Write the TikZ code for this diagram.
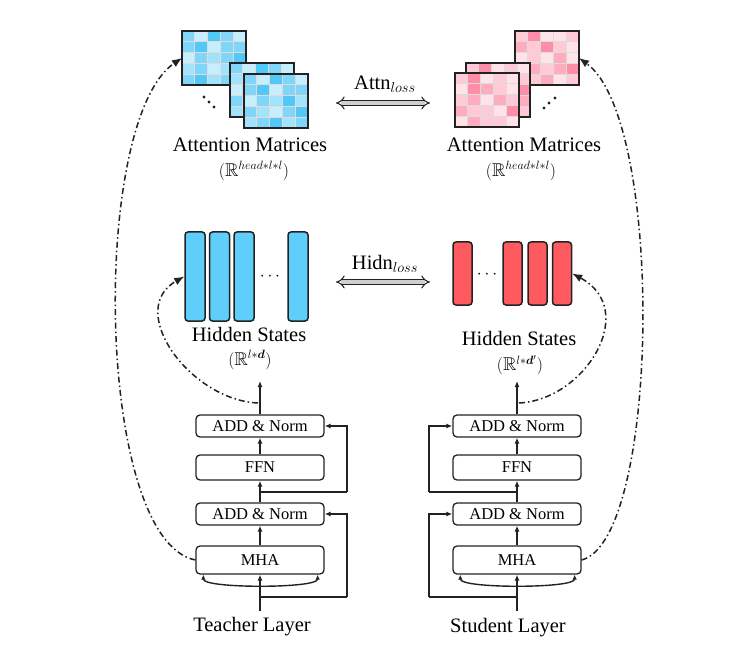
\documentclass[tikz,border=0pt]{standalone}
\usepackage{amssymb,bm}
\usepackage{fontspec}
\setmainfont{Liberation Serif}
\usetikzlibrary{arrows.meta,calc}
\definecolor{ink}{HTML}{222222}
\definecolor{b1}{HTML}{C6EEFD}
\definecolor{b2}{HTML}{A2E2FB}
\definecolor{b3}{HTML}{80D6F8}
\definecolor{b4}{HTML}{52C8F7}
\definecolor{p1}{HTML}{FFE3E9}
\definecolor{p2}{HTML}{FFCAD6}
\definecolor{p3}{HTML}{FFACBF}
\definecolor{p4}{HTML}{FF8DA7}
\definecolor{hblue}{HTML}{60CEFA}
\definecolor{hred}{HTML}{FF5A60}
\definecolor{gridc}{HTML}{DCDCDC}
\definecolor{arrfill}{HTML}{CFCFCF}
\tikzset{
  conn/.style={draw=ink, line width=1.4pt},
  arr/.style={-{Latex[length=6pt,width=5pt]}},
  ddarr/.style={draw=ink, line width=1.5pt, dash pattern=on 6pt off 3pt on 1.5pt off 3pt, -{Latex[length=10pt,width=8pt]}},
  blk/.style={draw=ink, line width=1.3pt, rounded corners=4pt, fill=white, minimum width=128pt, inner sep=0pt, font=\fontsize{16.5}{18}\selectfont},
  matbox/.style={minimum width=64pt, minimum height=54pt, inner sep=0pt, outer sep=0pt, fill=white},
  hbarT/.style={draw=ink, line width=1.5pt, rounded corners=3pt, minimum width=20pt, minimum height=89pt, inner sep=0pt, fill=hblue},
  hbarS/.style={draw=ink, line width=1.5pt, rounded corners=3pt, minimum width=19pt, minimum height=63pt, inner sep=0pt, fill=hred},
  biglbl/.style={font=\fontsize{20.5}{24}\selectfont, inner sep=0pt},
  mathlbl/.style={font=\fontsize{18.5}{21}\selectfont, inner sep=0pt},
  lossarr/.style={draw=ink, line width=1pt, double=arrfill, double distance=3.5pt, {Implies[length=4pt]}-{Implies[length=4pt]}},
}
\newcommand{\attnmat}[5]{%
  \node[matbox] (#1) at (#2+32,#3+27) {};
  \foreach \v [count=\i from 0] in {#5} {
    \pgfmathtruncatemacro\rr{int(\i/5)}
    \pgfmathtruncatemacro\cc{mod(\i,5)}
    \fill[#4\v, draw=gridc, line width=0.8pt] (#2+\cc*12.8, #3+\rr*10.8) rectangle ++(12.8,10.8);
  }
  \draw[ink, line width=2.2pt] (#1.north west) rectangle (#1.south east);
}
\begin{document}
\begin{tikzpicture}[x=1pt,y=-1pt]
\useasboundingbox (0,0) rectangle (756,666);

% ---- attention matrices (teacher)
\attnmat{tm1}{182}{31}{b}{3,1,4,3,1, 3,4,1,3,3, 1,3,2,3,4, 2,3,1,2,3, 3,4,2,3,2}
\attnmat{tm2}{230}{63}{b}{3,1,4,3,1, 2,3,2,4,3, 1,3,3,2,3, 3,1,2,3,4, 2,3,4,1,3}
\attnmat{tm3}{244}{74}{b}{3,1,4,3,1, 3,4,1,3,3, 1,3,2,4,2, 3,2,1,3,4, 2,3,4,2,3}
\foreach \p [count=\k] in {(204,97),(209,102),(214,107)}
  \fill[ink] \p circle (1.6);

% ---- attention matrices (student)
\attnmat{sm1}{515}{31}{p}{2,4,1,1,2, 3,2,4,2,1, 1,2,1,3,1, 2,3,2,3,4, 1,2,3,1,2}
\attnmat{sm2}{466}{63}{p}{2,4,1,2,1, 3,2,3,1,2, 2,3,1,2,4, 1,2,3,2,3, 2,1,2,3,2}
\attnmat{sm3}{455}{73}{p}{2,4,1,2,1, 1,4,3,2,1, 2,3,1,3,2, 3,2,2,1,4, 1,3,2,2,1}
\foreach \p [count=\k] in {(544,108),(549,103),(555,98)}
  \fill[ink] \p circle (1.6);

% ---- labels for matrices
\node[biglbl] (tattn) at (250,145) {Attention Matrices};
\node[mathlbl] (tattnR) at (254,171) {$(\mathbb{R}^{head*l*l})$};
\node[biglbl] (sattn) at (524,145) {Attention Matrices};
\node[mathlbl] (sattnR) at (521,171) {$(\mathbb{R}^{head*l*l})$};

% ---- loss arrows
\node[biglbl] (attnloss) at (385,84) {Attn$_{loss}$};
\coordinate (al) at (336,103);
\coordinate (ar) at (430,103);
\draw[lossarr] (al) -- (ar);
\node[biglbl] (hidnloss) at (385,264) {Hidn$_{loss}$};
\coordinate (hl) at (336,282);
\coordinate (hr) at (430,282);
\draw[lossarr] (hl) -- (hr);

% ---- hidden states
\node[hbarT] (tb1) at (195,276.5) {};
\node[hbarT] (tb2) at (219.5,276.5) {};
\node[hbarT] (tb3) at (244,276.5) {};
\node[inner sep=0pt, font=\fontsize{17}{20}\selectfont] (tdots) at (270,277) {$\cdots$};
\node[hbarT] (tb4) at (298,276.5) {};
\node[biglbl] (thid) at (249,334) {Hidden States};
\node[mathlbl] (thidR) at (250,360) {$(\mathbb{R}^{l*\bm{d}})$};

\node[hbarS] (sb1) at (462.5,273.5) {};
\node[inner sep=0pt, font=\fontsize{17}{20}\selectfont] (sdots) at (487,275) {$\cdots$};
\node[hbarS] (sb2) at (512.5,273.5) {};
\node[hbarS] (sb3) at (537.5,273.5) {};
\node[hbarS] (sb4) at (562,273.5) {};
\node[biglbl] (shid) at (519,338) {Hidden States};
\node[mathlbl] (shidR) at (520,365) {$(\mathbb{R}^{l*\bm{d}'})$};

% ---- teacher layer
\node[blk, minimum height=28pt] (tmha) at (260,560) {MHA};
\node[blk, minimum height=22pt] (tan1) at (260,514) {ADD \& Norm};
\node[blk, minimum height=25pt] (tffn) at (260,467.5) {FFN};
\node[blk, minimum height=22pt] (tan2) at (260,426) {ADD \& Norm};
\node[biglbl] (tlab) at (252,627) {Teacher Layer};
\coordinate (tin) at (260,611);
\coordinate (tr1a) at (260,597);
\coordinate (tr1b) at (347,597);
\coordinate (tr2a) at (260,492);
\coordinate (tr2b) at (347,492);
\coordinate (tout) at (260,381);
\coordinate (tdd) at (258,403);
\draw[conn, arr] (tin) -- (tmha.south);
\draw[conn, {Latex[length=5pt,width=4.5pt]}-{Latex[length=5pt,width=4.5pt]}]
  ($(tmha.south west)+(8,0)$) .. controls +(0,14) and +(0,14) .. ($(tmha.south east)+(-7,0)$);
\draw[conn] (tr1a) -- (tr1b);
\draw[conn, arr] (tr1b) |- (tan1.east);
\draw[conn, arr] (tmha.north) -- (tan1.south);
\draw[conn, arr] (tan1.north) -- (tffn.south);
\draw[conn] (tr2a) -- (tr2b);
\draw[conn, arr] (tr2b) |- (tan2.east);
\draw[conn, arr] (tffn.north) -- (tan2.south);
\draw[conn, arr] (tan2.north) -- (tout);

% ---- student layer
\node[blk, minimum height=28pt] (smha) at (517,560) {MHA};
\node[blk, minimum height=22pt] (san1) at (517,514) {ADD \& Norm};
\node[blk, minimum height=25pt] (sffn) at (517,467.5) {FFN};
\node[blk, minimum height=22pt] (san2) at (517,426) {ADD \& Norm};
\node[biglbl] (slab) at (508,628) {Student Layer};
\coordinate (sin) at (517,611);
\coordinate (sr1a) at (517,597);
\coordinate (sr1b) at (429,597);
\coordinate (sr2a) at (517,492);
\coordinate (sr2b) at (429,492);
\coordinate (sout) at (517,381);
\coordinate (sdd) at (519,403);
\draw[conn, arr] (sin) -- (smha.south);
\draw[conn, {Latex[length=5pt,width=4.5pt]}-{Latex[length=5pt,width=4.5pt]}]
  ($(smha.south west)+(8,0)$) .. controls +(0,14) and +(0,14) .. ($(smha.south east)+(-7,0)$);
\draw[conn] (sr1a) -- (sr1b);
\draw[conn, arr] (sr1b) |- (san1.west);
\draw[conn, arr] (smha.north) -- (san1.south);
\draw[conn, arr] (san1.north) -- (sffn.south);
\draw[conn] (sr2a) -- (sr2b);
\draw[conn, arr] (sr2b) |- (san2.west);
\draw[conn, arr] (sffn.north) -- (san2.south);
\draw[conn, arr] (san2.north) -- (sout);

% ---- dash-dot distillation connectors
\draw[ddarr] (tdd) .. controls (190,400) and (125,310) .. (tb1.west);
\draw[ddarr] (tmha.west) .. controls (95,540) and (90,120) .. (tm1.west);
\draw[ddarr] (sdd) .. controls (585,400) and (640,310) .. (sb4.east);
\draw[ddarr] (smha.east) .. controls (660,540) and (665,120) .. (sm1.east);
\end{tikzpicture}
\end{document}
